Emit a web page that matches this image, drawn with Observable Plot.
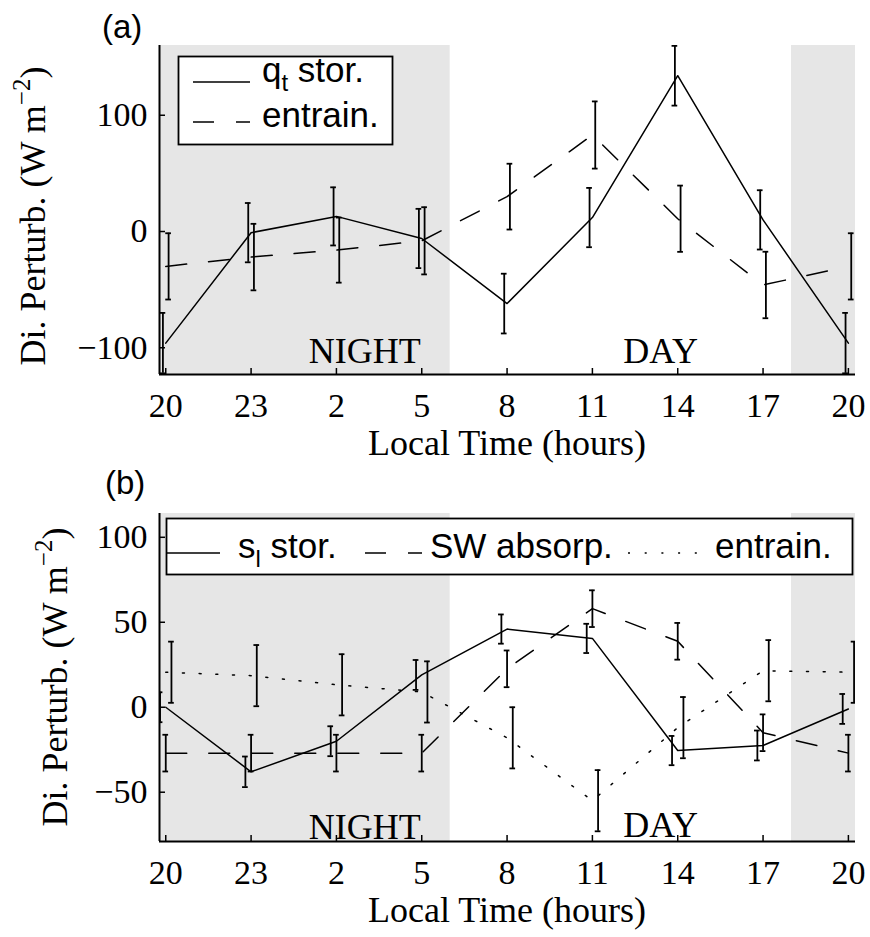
<!DOCTYPE html>
<html><head><meta charset="utf-8">
<script src="https://cdn.jsdelivr.net/npm/d3@7"></script>
<script src="https://cdn.jsdelivr.net/npm/@observablehq/plot@0.6"></script>
<style>
body{margin:0;background:#fff;}
#wrap{position:relative;width:870px;height:937px;background:#fff;}
#wrap > svg{display:block;}
#overlay{position:absolute;left:0;top:0;pointer-events:none;}
</style></head><body><div id="wrap"></div>
<script>
// ---- shared x data ----
const hours = [0, 3, 6, 9, 12, 15, 18, 21, 24];
const hourLabels = ["20", "23", "2", "5", "8", "11", "14", "17", "20"];
const nightSpans = [[-1, 10], [22, 25]];
const dayNightLabels = ["NIGHT", "DAY"];
const dayNightHours = [7, 17.4];
const xAxisLabel = "Local Time (hours)";
const yAxisLabelMain = "Di. Perturb. (W m";
const yAxisLabelSup = "−2";

// ---- panel (a) ----
const qtStor    = [-96, -1, 13, -6, -62, 12, 134, 10, -96];
const qtStorErr = [26, 25.5, 25, 25.5, 25.7, 25.5, 25.7, 25.5, 26];
const entrainA    = [-30, -22, -16, -8, 30, 83, 11, -46, -30];
const entrainAErr = [28.5, 28.6, 28, 28.9, 28.3, 28.9, 28.5, 28.6, 28.5];
const yTicksA = [-100, 0, 100];
const dayNightYA = [-113.5, -113];

// ---- panel (b) ----
const slStor    = [0, -38, -20, 19, 46, 40.5, -25.5, -22.5, -1];
const slStorErr = [8.8, 9, 8.8, 8.8, 8.6, 8.6, 8.6, 8.8, 8.8];
const swAbsorp    = [-27, -27, -27, -27, 22.6, 58, 38.8, -15, -27];
const swAbsorpErr = [10.8, 10.8, 10.8, 10.8, 10.8, 10.8, 10.8, 10.8, 10.8];
const entrainB    = [20.6, 18.6, 13.2, 9, -18, -55, -12, 21.5, 20.6];
const entrainBErr = [18, 18, 18, 18, 18, 18, 18, 18, 18];
const yTicksB = [-50, 0, 50, 100];
const dayNightYB = [-77.5, -76.5];

const DASH = "21,22";
const DOT = "2,14.7";
const SHADE = "#e6e6e6";
const SERIF = "Liberation Serif, Times New Roman, serif";
const SANS = "Liberation Sans, Arial, sans-serif";

function fmtY(d) { return d < 0 ? "−" + Math.abs(d) : String(d); }

function panel({height, marginTop, marginBottom, yDomain, yTicks, series, dnY}) {
  const width = 870, marginLeft = 159, marginRight = 15;
  const xDomain = [-0.22, 24.25];
  const innerH = height - marginTop - marginBottom;
  const innerW = width - marginLeft - marginRight;
  const cap = 0.1;
  const marks = [
    Plot.rect(nightSpans, {x1: d => d[0], x2: d => d[1], fill: SHADE, clip: true}),
    Plot.ruleX(hours, {insetTop: innerH - 6, stroke: "black", strokeWidth: 1.5}),
    Plot.ruleY(yTicks, {insetRight: innerW - 6, stroke: "black", strokeWidth: 1.5}),
    Plot.ruleX([xDomain[0]], {stroke: "black", strokeWidth: 2}),
    Plot.ruleY([yDomain[0]], {stroke: "black", strokeWidth: 2}),
    Plot.axisX(hours, {tickSize: 0, tickPadding: 18, label: null, fontSize: 34,
      tickFormat: d => hourLabels[hours.indexOf(d)]}),
    Plot.axisY(yTicks, {tickSize: 0, tickPadding: 12, label: null, fontSize: 34, tickFormat: fmtY}),
    Plot.text(dayNightLabels, {x: (d, i) => dayNightHours[i], y: (d, i) => dnY[i], text: d => d,
      fontSize: 36, fontFamily: SERIF, textAnchor: "middle", lineAnchor: "bottom", fill: "black"})
  ];
  for (const s of series) {
    const pts = hours.map((h, i) => ({h, v: s.values[i], e: s.err[i]}));
    marks.push(
      Plot.line(pts, {x: "h", y: "v", stroke: "black", strokeWidth: 1.5, strokeDasharray: s.dash, clip: true}),
      Plot.ruleX(pts, {x: d => d.h + s.off, y1: d => d.v - d.e, y2: d => d.v + d.e, stroke: "black", strokeWidth: 1.8, clip: true}),
      Plot.ruleY(pts, {y: d => d.v - d.e, x1: d => d.h + s.off - cap, x2: d => d.h + s.off + cap, stroke: "black", strokeWidth: 1.8, clip: true}),
      Plot.ruleY(pts, {y: d => d.v + d.e, x1: d => d.h + s.off - cap, x2: d => d.h + s.off + cap, stroke: "black", strokeWidth: 1.8, clip: true})
    );
  }
  return Plot.plot({
    width, height, marginLeft, marginRight, marginTop, marginBottom,
    x: {domain: xDomain}, y: {domain: yDomain},
    style: {fontFamily: SERIF, fontSize: "34px", background: "white", color: "black", overflow: "visible"},
    marks
  });
}

const wrap = document.getElementById("wrap");
wrap.appendChild(panel({
  height: 460, marginTop: 45, marginBottom: 86, yDomain: [-123, 160], yTicks: yTicksA, dnY: dayNightYA,
  series: [
    {values: qtStor, err: qtStorErr, dash: null, off: -0.1},
    {values: entrainA, err: entrainAErr, dash: DASH, off: 0.1}
  ]
}));
wrap.appendChild(panel({
  height: 477, marginTop: 53, marginBottom: 96, yDomain: [-79, 114], yTicks: yTicksB, dnY: dayNightYB,
  series: [
    {values: slStor, err: slStorErr, dash: null, off: -0.2},
    {values: swAbsorp, err: swAbsorpErr, dash: DASH, off: 0},
    {values: entrainB, err: entrainBErr, dash: DOT, off: 0.2}
  ]
}));

// ---- overlay: panel letters, axis titles, legends ----
const ov = d3.select(wrap).append("svg").attr("id", "overlay").attr("width", 870).attr("height", 937);

const panelLetters = [{t: "(a)", x: 102, y: 38}, {t: "(b)", x: 105, y: 494}];
ov.selectAll("text.pl").data(panelLetters).join("text").attr("class", "pl")
  .attr("x", d => d.x).attr("y", d => d.y).attr("font-family", SANS).attr("font-size", 33)
  .attr("fill", "black").text(d => d.t);

[{x: 45, y: 216}, {x: 67, y: 677}].forEach(p => {
  const t = ov.append("text").attr("transform", `translate(${p.x},${p.y}) rotate(-90)`)
    .attr("text-anchor", "middle").attr("font-family", SERIF).attr("font-size", 36).attr("fill", "black");
  t.append("tspan").text(yAxisLabelMain);
  t.append("tspan").attr("font-size", 25).attr("dy", -15).text(yAxisLabelSup);
  t.append("tspan").attr("font-size", 36).attr("dy", 15).text(")");
});

[455, 922].forEach(y => {
  ov.append("text").attr("x", 507).attr("y", y).attr("text-anchor", "middle")
    .attr("font-family", SERIF).attr("font-size", 36).attr("fill", "black").text(xAxisLabel);
});

function legend(box, entries) {
  ov.append("rect").attr("x", box.x).attr("y", box.y).attr("width", box.w).attr("height", box.h)
    .attr("fill", "white").attr("stroke", "black").attr("stroke-width", 1.8);
  for (const e of entries) {
    ov.append("line").attr("x1", e.lx1).attr("x2", e.lx2).attr("y1", e.ly).attr("y2", e.ly)
      .attr("stroke", "black").attr("stroke-width", 1.5).attr("stroke-dasharray", e.dash || null);
    const t = ov.append("text").attr("x", e.tx).attr("y", e.ty).attr("font-family", SANS)
      .attr("font-size", 35).attr("fill", "black");
    t.append("tspan").text(e.name);
    if (e.sub) {
      t.append("tspan").attr("font-size", 24).attr("dy", 9).text(e.sub);
      t.append("tspan").attr("dy", -9).text(e.rest);
    }
  }
}
legend({x: 178.5, y: 56.5, w: 214, h: 88}, [
  {name: "q", sub: "t", rest: " stor.", lx1: 193, lx2: 250, ly: 82, tx: 262, ty: 82, dash: null},
  {name: "entrain.", lx1: 193, lx2: 250, ly: 122, tx: 262, ty: 127, dash: DASH}
]);
legend({x: 166.5, y: 518.5, w: 686, h: 56}, [
  {name: "s", sub: "l", rest: " stor.", lx1: 167, lx2: 220, ly: 553, tx: 238, ty: 558, dash: null},
  {name: "SW absorp.", lx1: 365, lx2: 422, ly: 553, tx: 430, ty: 558, dash: DASH},
  {name: "entrain.", lx1: 628, lx2: 700, ly: 553, tx: 715, ty: 558, dash: DOT}
]);
</script></body></html>
